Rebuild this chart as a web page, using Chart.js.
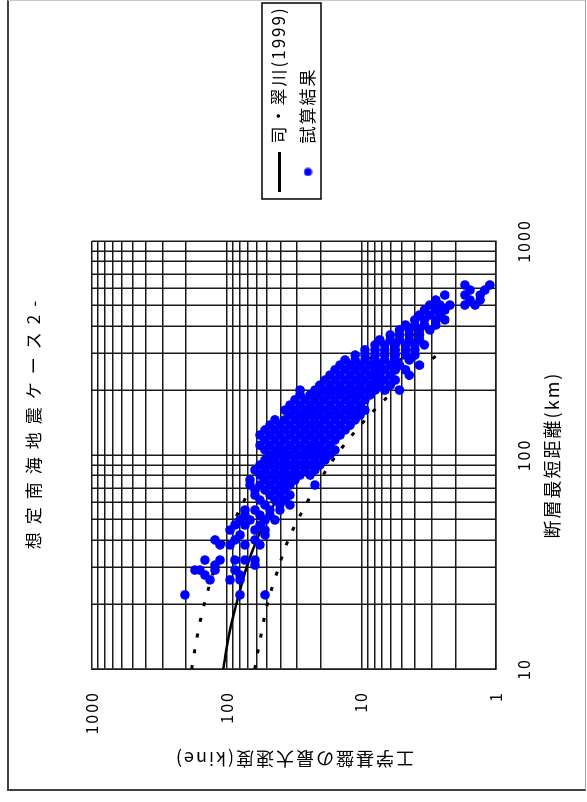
<!DOCTYPE html>
<html lang="ja">
<head>
<meta charset="utf-8">
<title>想定南海地震ケース2-</title>
<script src="https://cdn.jsdelivr.net/npm/chart.js@4.4.1/dist/chart.umd.min.js"></script>
<style>
  html, body { margin: 0; padding: 0; background: #fff; overflow: hidden; }
  body { width: 587px; height: 802px; position: relative; }
  /* the chart is drawn landscape and turned a quarter to the left, like the scan */
  .turn { position: absolute; left: 0; top: 0; width: 802px; height: 587px;
          transform-origin: 0 0; transform: translate(0, 802px) rotate(-90deg); }
  .frame { position: absolute; left: 7px; top: 0; width: 576px; height: 788px; pointer-events: none;
           border-top: 1px solid #c8c8c8; border-right: 1px solid #a0a0a0;
           border-left: 2px solid #404040; border-bottom: 2px solid #404040; }
</style>
</head>
<body>
<div class="turn"><canvas id="chart" width="802" height="587"></canvas></div>
<div class="frame"></div>
<script>
const chartTitle = "想定南海地震ケース2-";
const xTitle = "断層最短距離(km)";
const yTitle = "工学基盤の最大速度(kine)";
const legendNames = ["司・翠川(1999)", "試算結果"];

const distTickLabels = [10, 100, 1000];
const velTickLabels = [1, 10, 100, 1000];
const gridSteps = [1, 2, 3, 4, 5, 6, 7, 8, 9];

// attenuation curve (mean and the two dotted bounds)
const curveDist = [10, 15, 20, 30, 40, 50, 70, 100, 150, 200, 250, 300];
const curveMean = [106, 95, 85, 71, 60, 51, 38, 26, 15.5, 9.8, 6.5, 4.4];
const curveUpper = [182, 163, 147, 122, 103, 87, 66, 45, 27, 17, 11.1, 7.6];
const curveLower = [62, 55, 50, 41, 35, 29.5, 22, 15.3, 9.0, 5.7, 3.8, 2.6];

// trial results [distance km, velocity kine]
const simPoints = [
  [623,1.70],[623,1.11],
  [590,1.56],[590,1.21],
  [559,2.4],[559,1.70],[559,1.31],
  [530,2.8],[530,1.56],[530,1.31],
  [502,3.1],[502,2.6],[502,2.2],[502,1.70],[502,1.43],
  [476,3.4],[476,2.8],[476,2.4],
  [451,3.7],[451,3.1],[451,2.6],
  [428,4.0],[428,3.4],[428,2.8],[428,2.4],
  [405,4.7],[405,4.0],[405,3.4],[405,2.8],
  [384,5.2],[384,4.4],[384,3.7],[384,3.1],
  [364,6.1],[364,5.2],[364,4.4],[364,3.7],
  [345,7.3],[345,6.1],[345,5.2],[345,4.4],[345,3.7],
  [327,7.9],[327,6.7],[327,5.6],[327,4.7],[327,4.0],[327,3.4],
  [310,9.4],[310,7.9],[310,6.7],[310,5.6],[310,4.7],[310,4.0],
  [293,11.1],[293,9.4],[293,7.9],[293,6.7],[293,5.6],[293,4.7],[293,4.0],
  [278,13.2],[278,11.1],[278,9.4],[278,7.9],[278,6.7],[278,5.6],[278,4.4],
  [263,14.4],[263,12.1],[263,10.2],[263,8.6],[263,7.3],[263,6.1],[263,5.2],[263,3.7],
  [250,15.7],[250,13.2],[250,11.1],[250,9.4],[250,7.9],[250,6.7],[250,5.6],[250,4.7],
  [236,17.1],[236,14.4],[236,12.1],[236,10.2],[236,8.6],[236,7.3],[236,6.1],[236,4.4],
  [224,18.6],[224,15.7],[224,13.2],[224,11.1],[224,9.4],[224,7.9],[224,6.7],[224,5.6],
  [212,20.3],[212,17.1],[212,14.4],[212,12.1],[212,10.2],[212,8.6],[212,7.3],[212,6.1],
  [201,28.5],[201,22.1],[201,18.6],[201,15.7],[201,13.2],[201,11.1],[201,9.4],[201,7.9],[201,6.7],[201,5.2],
  [191,28.5],[191,24.0],[191,20.3],[191,17.1],[191,14.4],[191,12.1],[191,10.2],[191,8.6],
  [181,31.1],[181,26.2],[181,22.1],[181,18.6],[181,15.7],[181,13.2],[181,11.1],[181,9.4],
  [171,33.9],[171,28.5],[171,24.0],[171,20.3],[171,17.1],[171,14.4],[171,12.1],[171,10.2],
  [162,36.9],[162,31.1],[162,26.2],[162,22.1],[162,18.6],[162,15.7],[162,13.2],[162,11.1],[162,9.4],
  [154,33.9],[154,28.5],[154,24.0],[154,20.3],[154,17.1],[154,14.4],[154,12.1],[154,10.2],
  [146,43.8],[146,36.9],[146,31.1],[146,26.2],[146,22.1],[146,18.6],[146,15.7],[146,13.2],[146,11.1],
  [138,47.7],[138,40.2],[138,33.9],[138,28.5],[138,24.0],[138,20.3],[138,17.1],[138,14.4],[138,12.1],
  [131,51.9],[131,43.8],[131,36.9],[131,31.1],[131,26.2],[131,22.1],[131,18.6],[131,15.7],[131,13.2],
  [124,56.6],[124,47.7],[124,40.2],[124,33.9],[124,28.5],[124,24.0],[124,20.3],[124,17.1],[124,14.4],
  [117.5,51.9],[117.5,43.8],[117.5,36.9],[117.5,31.1],[117.5,26.2],[117.5,22.1],[117.5,18.6],[117.5,15.7],
  [111,56.6],[111,47.7],[111,40.2],[111,33.9],[111,28.5],[111,24.0],[111,20.3],[111,17.1],
  [105.5,51.9],[105.5,43.8],[105.5,36.9],[105.5,31.1],[105.5,26.2],[105.5,22.1],[105.5,18.6],[105.5,15.7],
  [100,47.7],[100,40.2],[100,33.9],[100,28.5],[100,24.0],[100,20.3],[100,17.1],
  [94.8,51.9],[94.8,43.8],[94.8,36.9],[94.8,31.1],[94.8,26.2],[94.8,22.1],[94.8,18.6],
  [89.8,56.6],[89.8,47.7],[89.8,40.2],[89.8,33.9],[89.8,28.5],[89.8,24.0],[89.8,20.3],
  [85.1,61.6],[85.1,51.9],[85.1,43.8],[85.1,36.9],[85.1,31.1],[85.1,26.2],[85.1,22.1],
  [80.6,56.6],[80.6,47.7],[80.6,40.2],[80.6,33.9],[80.6,28.5],[80.6,24.0],
  [76.4,67.1],[76.4,51.9],[76.4,43.8],[76.4,36.9],[76.4,31.1],
  [72.4,67.1],[72.4,56.6],[72.4,47.7],[72.4,40.2],[72.4,33.9],[72.4,22.1],
  [68.6,61.6],[68.6,51.9],[68.6,43.8],[68.6,36.9],
  [65.0,61.6],[65.0,47.7],[65.0,40.2],[65.0,33.9],
  [61.6,56.6],[61.6,43.8],[61.6,36.9],
  [58.4,51.9],[58.4,40.2],[58.4,33.9],
  [55.3,73.1],[55.3,61.6],[55.3,47.7],[55.3,40.2],
  [52.4,73.1],[52.4,56.6],[52.4,47.7],
  [49.7,79.6],[49.7,67.1],[49.7,51.9],[49.7,43.8],
  [47.1,86.7],[47.1,73.1],[47.1,56.6],
  [44.6,94.4],[44.6,61.6],[44.6,51.9],
  [42.3,79.6],[42.3,51.9],
  [40.1,122],[40.1,86.7],[40.1,61.6],
  [38.0,112],[38.0,94.4],[38.0,73.1],[38.0,56.6],
  [32.3,145],[32.3,112],[32.3,86.7],[32.3,73.1],[32.3,61.6],
  [30.6,122],[30.6,61.6],
  [29.0,172],[29.0,158],[29.0,122],[29.0,86.7],
  [27.5,145],[27.5,79.6],
  [26.1,133],[26.1,94.4],[26.1,79.6],
  [22.2,204],[22.2,79.6],[22.2,51.9]
];

Chart.defaults.font.family = "'Noto Sans CJK JP', 'Noto Sans', sans-serif";
Chart.defaults.color = "#000";

const gridColor = "#1a1a1a";
const blue = "#0000ff";
// left padding is negative so the full-width title centres where the scan has it
const pad = { top: 8, left: -38, right: 2, bottom: 8 };
const plotLeft = 133;
const plotRight = 561;

// every decade gets lines at 1..9
const logGrid = (lo, hi) => {
  const vals = [];
  for (let d = lo; d < hi; d *= 10) gridSteps.forEach((s) => vals.push(s * d));
  vals.push(hi);
  return vals.map((value) => ({ value }));
};

const curve = (vals) => curveDist.map((x, i) => ({ x, y: vals[i] }));

const makeIcon = (w, h, paint) => {
  const c = document.createElement("canvas");
  c.width = w;
  c.height = h;
  paint(c.getContext("2d"));
  return c;
};

const legendIcons = {
  [legendNames[0]]: makeIcon(40, 3, (g) => {
    g.fillStyle = "#000";
    g.fillRect(0, 0, 40, 3);
  }),
  [legendNames[1]]: makeIcon(9, 9, (g) => {
    g.fillStyle = blue;
    g.beginPath();
    g.arc(4.5, 4.5, 4, 0, Math.PI * 2);
    g.fill();
  }),
};

// the old chart has loosely spaced lettering
const spacing = {
  id: "spacing",
  beforeUpdate(chart) { chart.ctx.letterSpacing = "2px"; },
  beforeDraw(chart) { chart.ctx.letterSpacing = "2px"; },
};

const legendFrame = {
  id: "legendFrame",
  afterDraw(chart) {
    const boxes = chart.legend && chart.legend.legendHitBoxes;
    if (!boxes || !boxes.length) return;
    let l = Infinity, t = Infinity, r = -Infinity, b = -Infinity;
    boxes.forEach((h) => {
      l = Math.min(l, h.left);
      t = Math.min(t, h.top);
      r = Math.max(r, h.left + h.width);
      b = Math.max(b, h.top + h.height);
    });
    const ctx = chart.ctx;
    ctx.save();
    ctx.strokeStyle = "#000";
    ctx.lineWidth = 1.5;
    ctx.strokeRect(l - 7, t - 8.5, Math.min(r - l + 11, chart.width - l + 4), b - t + 13);
    ctx.restore();
  },
};

const axisBase = {
  type: "logarithmic",
  grid: { color: gridColor, lineWidth: 1.5, drawTicks: false },
  border: { color: gridColor, width: 1.5 },
};

const boundLine = (label, vals) => ({
  label,
  data: curve(vals),
  showLine: true,
  borderColor: "#000",
  borderWidth: 3,
  borderDash: [4, 12],
  pointRadius: 0,
  cubicInterpolationMode: "monotone",
  order: 1,
});

const chart = new Chart(document.getElementById("chart"), {
  type: "scatter",
  data: {
    datasets: [
      {
        label: legendNames[0],
        data: curve(curveMean),
        showLine: true,
        borderColor: "#000",
        borderWidth: 2.5,
        pointRadius: 0,
        cubicInterpolationMode: "monotone",
        order: 1,
      },
      boundLine("+σ", curveUpper),
      boundLine("-σ", curveLower),
      {
        label: legendNames[1],
        data: simPoints.map(([x, y]) => ({ x, y })),
        backgroundColor: blue,
        borderWidth: 0,
        pointRadius: 4.8,
        pointStyle: "circle",
        order: 0,
      },
    ],
  },
  options: {
    responsive: false,
    animation: false,
    events: [],
    layout: { padding: pad },
    scales: {
      x: {
        ...axisBase,
        position: "bottom",
        min: 10,
        max: 1000,
        afterBuildTicks: (s) => { s.ticks = logGrid(10, 1000); },
        afterFit: (s) => { s.height = 83; },
        ticks: {
          autoSkip: false,
          maxRotation: 0,
          padding: 18,
          font: { size: 16 },
          callback: (v) => (distTickLabels.includes(v) ? String(v) : ""),
        },
        title: { display: true, text: xTitle, font: { size: 18 }, padding: { top: 0, bottom: 16 } },
      },
      y: {
        ...axisBase,
        position: "left",
        min: 1,
        max: 1000,
        afterBuildTicks: (s) => { s.ticks = logGrid(1, 1000); },
        afterFit: (s) => { s.width = plotLeft - pad.left; },
        ticks: {
          autoSkip: false,
          padding: 22,
          font: { size: 16 },
          callback: (v) => (velTickLabels.includes(v) ? String(v) : ""),
        },
        title: { display: true, text: yTitle, font: { size: 18 }, padding: { top: 43 - pad.left - 10.8, bottom: 0 } },
      },
      // empty strip between the plot and the legend
      gap: {
        type: "linear",
        position: "right",
        grid: { display: false },
        border: { display: false },
        ticks: { display: false },
        afterFit: (s) => {
          const lw = s.chart.legend ? s.chart.legend.width : 0;
          s.width = Math.max(0, s.chart.width - pad.right - lw - plotRight);
        },
      },
    },
    plugins: {
      title: {
        display: true,
        text: chartTitle,
        font: { size: 17, weight: "normal" },
        padding: { top: 15, bottom: 48.6 },
      },
      legend: {
        position: "right",
        maxWidth: 202,
        labels: {
          usePointStyle: true,
          pointStyleWidth: 40,
          boxWidth: 40,
          padding: 12,
          font: { size: 17 },
          generateLabels(c) {
            const items = Chart.defaults.plugins.legend.labels.generateLabels(c);
            return items
              .filter((it) => legendNames.includes(it.text))
              .sort((a, b) => legendNames.indexOf(a.text) - legendNames.indexOf(b.text))
              .map((it) => Object.assign(it, { pointStyle: legendIcons[it.text] }));
          },
        },
      },
      tooltip: { enabled: false },
    },
  },
  plugins: [spacing, legendFrame],
});

// wider spacing for the title only
const titleBox = chart.titleBlock;
if (titleBox) {
  const drawTitle = titleBox.draw.bind(titleBox);
  titleBox.draw = function (area) {
    const ctx = chart.ctx;
    const prev = ctx.letterSpacing;
    ctx.letterSpacing = "8px";
    drawTitle(area);
    ctx.letterSpacing = prev;
  };
  chart.draw();
}
</script>
</body>
</html>
